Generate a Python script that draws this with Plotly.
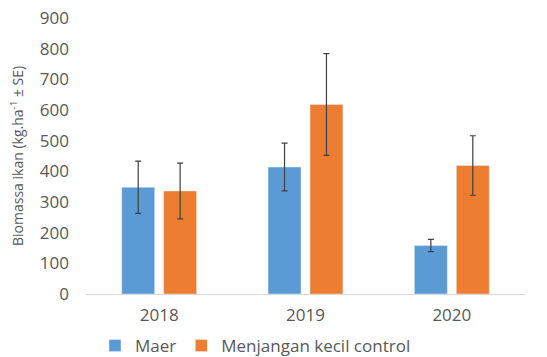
import plotly.graph_objects as go

# Fish biomass by year for the two sites
years = ["2018", "2019", "2020"]
maer = [348, 414, 158]
maer_se = [85, 78, 20]
menjangan = [336, 618, 419]
menjangan_se = [91, 166, 97]

y_ticks = [0, 100, 200, 300, 400, 500, 600, 700, 800, 900]
y_title = "Biomassa ikan (kg.ha<sup>-1</sup> ± SE)"

BLUE = "#5B9BD5"
ORANGE = "#ED7D31"
TEXT = "#595959"
FONT = "Open Sans"

W, H = 547, 357
M_L, M_R, M_T, M_B = 86, 22, 18, 63

fig = go.Figure()
fig.add_trace(go.Bar(
    x=years, y=maer, name="Maer", marker_color=BLUE,
    error_y=dict(type="data", array=maer_se, visible=True,
                 color="#404040", thickness=1.2, width=3),
))
fig.add_trace(go.Bar(
    x=years, y=menjangan, name="Menjangan kecil control", marker_color=ORANGE,
    error_y=dict(type="data", array=menjangan_se, visible=True,
                 color="#404040", thickness=1.2, width=3),
))

# Rotated y-axis title placed close to the left edge
fig.add_annotation(
    text=y_title, textangle=-90, showarrow=False,
    xref="paper", yref="paper",
    x=(17 - M_L) / (W - M_L - M_R), xanchor="center",
    y=0.5, yanchor="middle",
    font=dict(family=FONT, size=14, color=TEXT),
)

fig.update_layout(
    width=W, height=H,
    margin=dict(l=M_L, r=M_R, t=M_T, b=M_B, autoexpand=False),
    paper_bgcolor="white", plot_bgcolor="white",
    barmode="group", bargap=0.427, bargroupgap=0.214,
    font=dict(family=FONT, color=TEXT, size=17),
    showlegend=True,
    legend=dict(
        orientation="h", xref="container", yref="container",
        x=95 / W, xanchor="left", y=1 - 346 / H, yanchor="middle",
        font=dict(family=FONT, size=17, color=TEXT),
        itemwidth=30, traceorder="normal",
    ),
    xaxis=dict(
        showline=True, linecolor="#D9D9D9", linewidth=1,
        ticks="", showgrid=False, tickfont=dict(size=17, color=TEXT),
        ticklabelstandoff=6, automargin=False,
    ),
    yaxis=dict(
        range=[0, 900], tickvals=y_ticks, showgrid=False, zeroline=False,
        showline=False, ticks="", tickfont=dict(size=17, color=TEXT),
        ticklabelstandoff=16, automargin=False,
    ),
)

fig.write_html("out.html")
